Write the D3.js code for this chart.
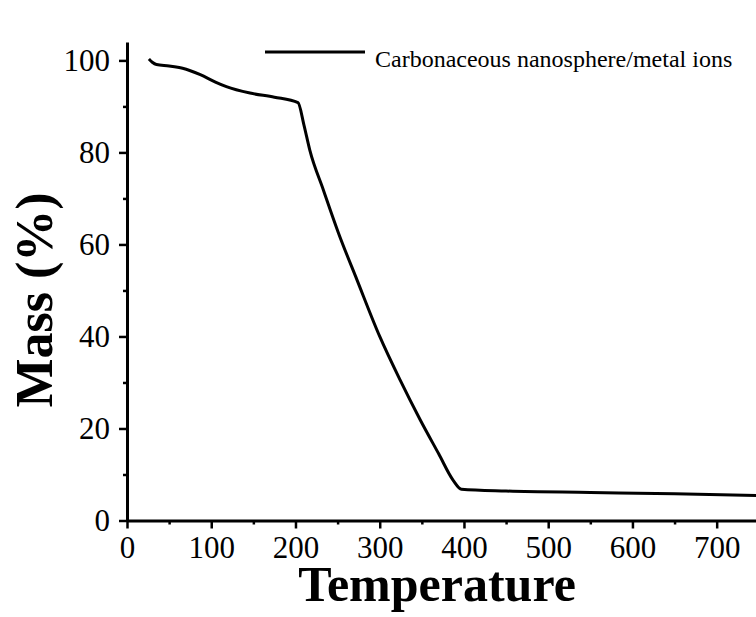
<!DOCTYPE html>
<html>
<head>
<meta charset="utf-8">
<script src="https://cdn.jsdelivr.net/npm/d3@7"></script>
<style>
  body { margin: 0; background: #fff; }
  svg { display: block; }
  text { font-family: "Liberation Serif", "Times New Roman", serif; fill: #000; }
</style>
</head>
<body>
<svg id="chart"></svg>
<script>
// data
var temps = [26, 30, 35, 50, 66, 87, 105, 118, 146, 175, 203, 210, 217, 233, 251, 273, 300, 324, 348, 370, 387, 397, 450, 550, 650, 750];
var mass  = [100.3, 99.6, 99.1, 98.8, 98.3, 96.9, 95.3, 94.3, 92.9, 92.0, 90.8, 86.0, 80.5, 71.9, 62.5, 52.3, 40.0, 30.6, 21.9, 14.5, 8.8, 6.8, 6.4, 6.1, 5.8, 5.4];
var xTicks = [0, 100, 200, 300, 400, 500, 600, 700];
var yTicks = [0, 20, 40, 60, 80, 100];
var seriesName = "Carbonaceous nanosphere/metal ions";

//layout
var W = 756, H = 617;
var margin = {top: 42, left: 127, bottom: 96.5};

var svg = d3.select("#chart").attr("width", W).attr("height", H);

var x = d3.scaleLinear().domain([0, 750]).range([margin.left, margin.left + 631.8]);
var y = d3.scaleLinear().domain([0, 104]).range([H - margin.bottom, margin.top]);

// minor ticks at half steps
var xMinor = d3.range(50, 800, 100);
var yMinor = d3.range(10, 104, 20);

svg.append("g")
  .attr("transform", "translate(0," + y(0) + ")")
  .call(d3.axisBottom(x).tickValues(xMinor).tickSize(4).tickFormat(""))
  .call(function(g){ g.select(".domain").remove(); g.selectAll("line").attr("stroke-width", 2.5); });

svg.append("g")
  .attr("transform", "translate(" + x(0) + ",0)")
  .call(d3.axisLeft(y).tickValues(yMinor).tickSize(4).tickFormat(""))
  .call(function(g){ g.select(".domain").remove(); g.selectAll("line").attr("stroke-width", 2.5); });

var xAxis = svg.append("g")
  .attr("transform", "translate(0," + y(0) + ")")
  .call(d3.axisBottom(x).tickValues(xTicks).tickSize(8).tickSizeOuter(0).tickPadding(7));
xAxis.select(".domain").attr("stroke-width", 3);
xAxis.selectAll("line").attr("stroke-width", 2.5);
xAxis.selectAll("text").attr("font-size", 31).attr("font-family", "Liberation Serif");

var yAxis = svg.append("g")
  .attr("transform", "translate(" + x(0) + ",0)")
  .call(d3.axisLeft(y).tickValues(yTicks).tickSize(8).tickSizeOuter(0).tickPadding(9));
yAxis.select(".domain").attr("stroke-width", 3);
yAxis.selectAll("line").attr("stroke-width", 2.5);
yAxis.selectAll("text").attr("font-size", 31).attr("font-family", "Liberation Serif");

// the curve
var pts = temps.map(function(t, i){ return [t, mass[i]]; });
var line = d3.line()
  .curve(d3.curveMonotoneX)
  .x(function(d){ return x(d[0]); })
  .y(function(d){ return y(d[1]); });

svg.append("path")
  .datum(pts)
  .attr("d", line)
  .attr("fill", "none")
  .attr("stroke", "#000")
  .attr("stroke-width", 3)
  .attr("stroke-linejoin", "round");

// legend
svg.append("line")
  .attr("x1", 265).attr("x2", 365)
  .attr("y1", 52).attr("y2", 52)
  .attr("stroke", "#000").attr("stroke-width", 3);
svg.append("text")
  .attr("x", 375).attr("y", 67)
  .attr("font-size", 24)
  .text(seriesName);

// axis titles
svg.append("text")
  .attr("x", 437).attr("y", 601)
  .attr("text-anchor", "middle")
  .attr("font-size", 50)
  .attr("font-weight", "bold")
  .text("Temperature");

svg.append("text")
  .attr("transform", "translate(52," + 300 + ") rotate(-90)")
  .attr("text-anchor", "middle")
  .attr("font-size", 52)
  .attr("font-weight", "bold")
  .text("Mass (%)");
</script>
</body>
</html>
